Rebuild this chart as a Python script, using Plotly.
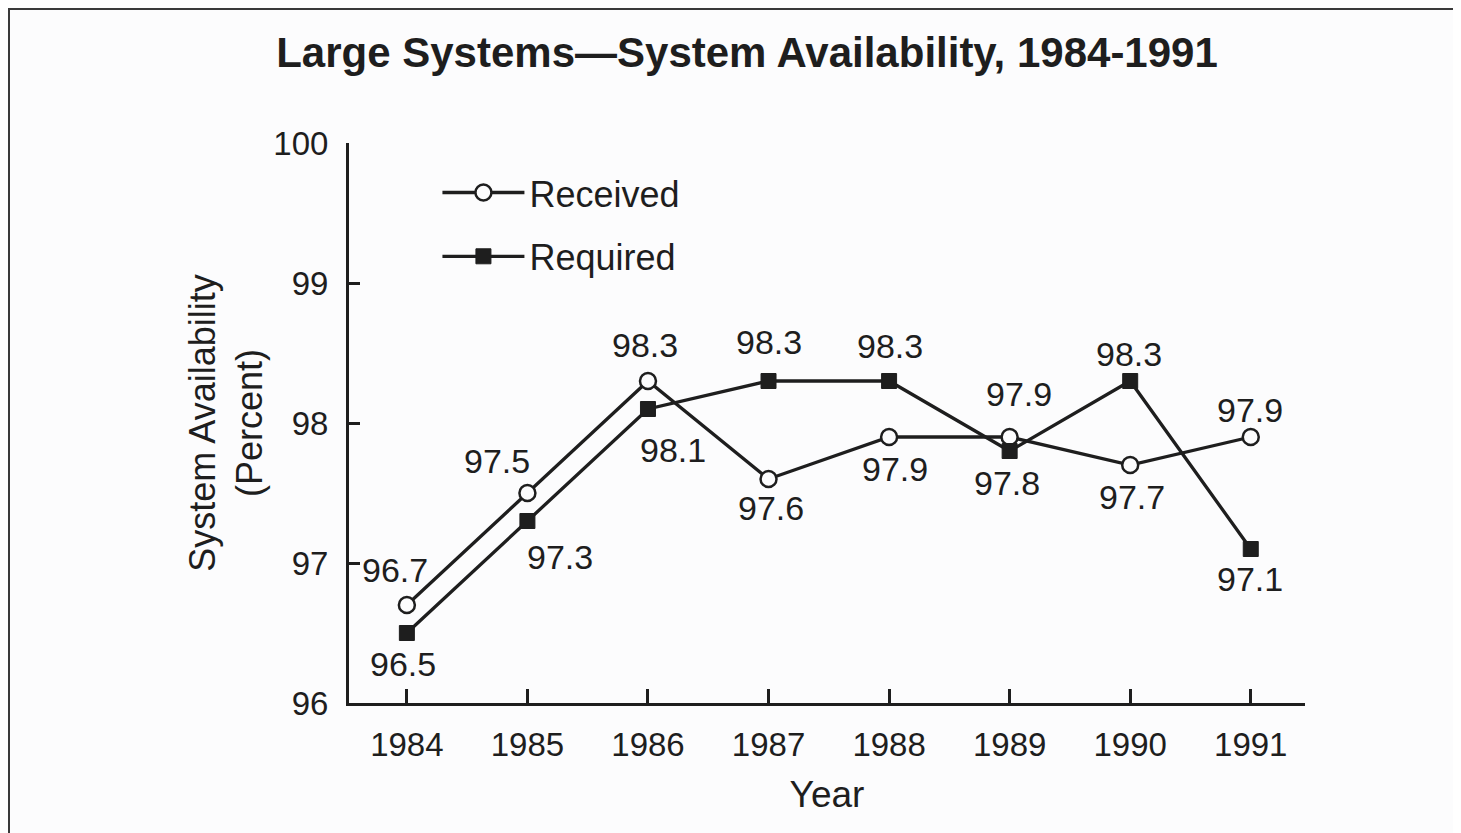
import plotly.graph_objects as go

years = [1984, 1985, 1986, 1987, 1988, 1989, 1990, 1991]
received = [96.7, 97.5, 98.3, 97.6, 97.9, 97.9, 97.7, 97.9]
required = [96.5, 97.3, 98.1, 98.3, 98.3, 97.8, 98.3, 97.1]
year_labels = [str(y) for y in years]
y_ticks = [96, 97, 98, 99, 100]

# label offsets in pixels (dx, dy with dy positive = downward)
recv_off = [(-12, -35), (-30, -32), (-3, -36), (2, 29), (6, 32), (9, -43), (2, 32), (-1, -27)]
reqd_off = [(-4, 31), (33, 36), (25, 41), (0, -39), (1, -35), (-3, 32), (-1, -27), (-1, 30)]

FONT = "Liberation Sans, Arial, Helvetica, sans-serif"
INK = "#1e1e1e"
BG = "#fcfcfd"

# page body has an 8px margin; figure is sized to fit the 1461x833 window
W, H = 1453, 825
L, T = 341, 135
PW, PH = 956, 560

fig = go.Figure()
fig.add_trace(go.Scatter(
    x=years, y=received, name="Received", mode="lines+markers",
    legendgroup="a",
    line=dict(color=INK, width=3.3),
    marker=dict(symbol="circle", size=16, color=BG, line=dict(color=INK, width=2.5)),
))
fig.add_trace(go.Scatter(
    x=years, y=required, name="Required", mode="lines+markers",
    legendgroup="b",
    line=dict(color=INK, width=3.3),
    marker=dict(symbol="square", size=15, color=INK, line=dict(color=INK, width=1)),
))

annotations = []
for xs, ys, offs in ((years, received, recv_off), (years, required, reqd_off)):
    for x, y, (dx, dy) in zip(xs, ys, offs):
        annotations.append(dict(
            x=x, y=y, xref="x", yref="y", text=f"{y:.1f}", showarrow=False,
            xshift=dx, yshift=-dy, xanchor="center", yanchor="middle",
            font=dict(family=FONT, size=34, color=INK),
        ))

fig.update_layout(
    width=W, height=H,
    margin=dict(l=L, r=W - L - PW, t=T, b=H - T - PH),
    paper_bgcolor=BG, plot_bgcolor=BG,
    font=dict(family=FONT, size=34, color=INK),
    title=dict(text="<b>Large Systems\u2014System Availability, 1984-1991</b>",
               x=(747 - 8) / W, xanchor="center", y=1 - (52 - 8) / H, yanchor="middle",
               font=dict(family=FONT, size=42, color=INK)),
    showlegend=True,
    legend=dict(x=0.0925, y=0.965, xanchor="left", yanchor="top",
                bgcolor="rgba(0,0,0,0)", font=dict(family=FONT, size=36, color=INK),
                traceorder="grouped", tracegroupgap=14, itemwidth=82),
    annotations=annotations,
    shapes=[dict(type="rect", xref="paper", yref="paper",
                 x0=(1 - L) / PW, x1=(W + 200 - L) / PW,
                 y0=-(H + 200 - T - PH) / PH, y1=(T + PH - 1) / PH,
                 line=dict(color="#3a3a3a", width=2), layer="below")],
)

fig.update_xaxes(
    range=[1983.52, 1991.45], tickvals=years, ticktext=year_labels,
    showgrid=False, zeroline=False, showline=True, linecolor=INK, linewidth=3,
    ticks="inside", ticklen=14, tickwidth=3, tickcolor=INK,
    tickfont=dict(family=FONT, size=33, color=INK), ticklabelstandoff=10,
    title=dict(text="Year", font=dict(family=FONT, size=37, color=INK), standoff=20),
)
fig.update_yaxes(
    range=[96, 100], tickvals=y_ticks, ticktext=[str(v) for v in y_ticks],
    showgrid=False, zeroline=False, showline=True, linecolor=INK, linewidth=3,
    ticks="inside", ticklen=11, tickwidth=3, tickcolor=INK,
    tickfont=dict(family=FONT, size=33, color=INK), ticklabelstandoff=11,
    title=dict(text="System Availability<br>(Percent)", font=dict(family=FONT, size=36, color=INK), standoff=0),
)

fig.write_html("out.html")
